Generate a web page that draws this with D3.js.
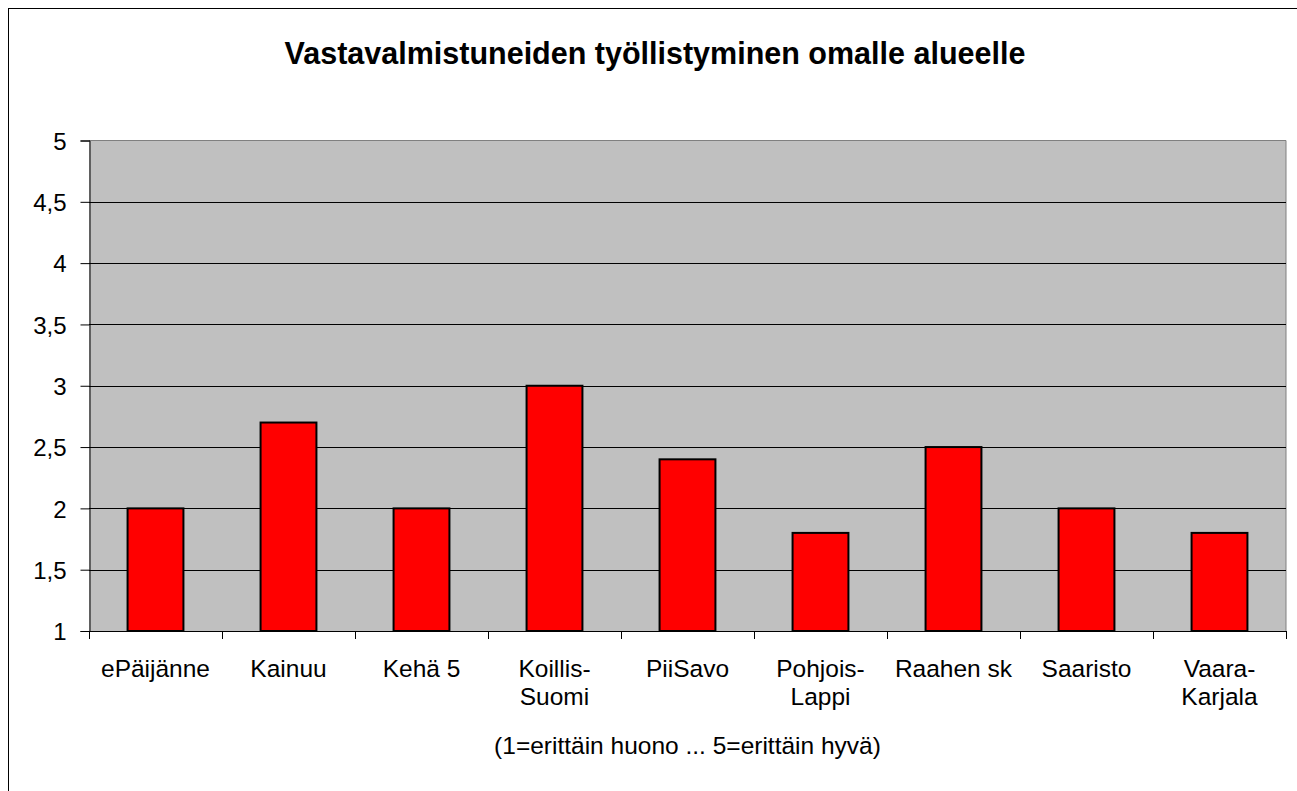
<!DOCTYPE html>
<html><head><meta charset="utf-8">
<script src="https://cdn.jsdelivr.net/npm/d3@7"></script>
<style>body{margin:0;background:#fff;} text{font-family:"Liberation Sans",Arial,sans-serif;}</style>
</head><body>
<svg id="c" width="1297" height="791"></svg>
<script>
const categories = [["ePäijänne"],["Kainuu"],["Kehä 5"],["Koillis-","Suomi"],["PiiSavo"],["Pohjois-","Lappi"],["Raahen sk"],["Saaristo"],["Vaara-","Karjala"]];
const values = [2, 2.7, 2, 3, 2.4, 1.8, 2.5, 2, 1.8];
const yTicks = [1, 1.5, 2, 2.5, 3, 3.5, 4, 4.5, 5];
const title = "Vastavalmistuneiden työllistyminen omalle alueelle";
const xTitle = "(1=erittäin huono ... 5=erittäin hyvä)";

const svg = d3.select("#c");
const L = 89, R = 1286, T = 140.5, B = 631;
svg.append("rect").attr("x",8.5).attr("y",8.5).attr("width",1300).attr("height",800).attr("fill","#fff").attr("stroke","#000").attr("stroke-width",1);

const x = d3.scaleBand().domain(categories.map((d,i)=>i)).range([L,R]).paddingInner(0.58).paddingOuter(0.29);
const xb = d3.scaleBand().domain(categories.map((d,i)=>i)).range([L,R]);
const y = d3.scaleLinear().domain([1,5]).range([B,T]);

svg.append("rect").attr("x",L).attr("y",T).attr("width",R-L).attr("height",B-T).attr("fill","#C0C0C0");
svg.append("path").attr("d",`M${L},${T}H${R}V${B}`).attr("fill","none").attr("stroke","#808080").attr("stroke-width",1);

svg.append("g").selectAll("line").data(yTicks.filter(t=>t>1&&t<5)).join("line")
  .attr("x1",L).attr("x2",R).attr("y1",d=>Math.round(y(d))+0.5).attr("y2",d=>Math.round(y(d))+0.5)
  .attr("stroke","#000").attr("stroke-width",1);

svg.append("g").selectAll("rect").data(values).join("rect")
  .attr("x",(d,i)=>x(i)).attr("width",x.bandwidth())
  .attr("y",d=>y(d)).attr("height",d=>B-y(d))
  .attr("fill","#FF0000").attr("stroke","#000").attr("stroke-width",2);

const ya = d3.axisLeft(y).tickValues(yTicks).tickSize(9).tickPadding(14).tickFormat(d=>String(d).replace(".",","));
const yg = svg.append("g").attr("transform",`translate(${L+0.5},0)`).call(ya);
yg.select(".domain").attr("stroke","#000");
yg.selectAll("text").attr("font-size",24).attr("fill","#000").attr("dy","0.36em").style("font-family","Liberation Sans, Arial, sans-serif");

svg.append("line").attr("x1",L).attr("x2",R).attr("y1",B+0.5).attr("y2",B+0.5).attr("stroke","#000");
const tickPos = d3.range(categories.length+1).map(i=> i<categories.length ? xb(i) : R);
svg.append("g").selectAll("line").data(tickPos).join("line")
  .attr("x1",d=>Math.round(d)+0.5).attr("x2",d=>Math.round(d)+0.5).attr("y1",B).attr("y2",B+8).attr("stroke","#000");

const lg = svg.append("g");
categories.forEach((lines,i)=>{
  const cx = xb(i)+xb.bandwidth()/2;
  const t = lg.append("text").attr("text-anchor","middle").attr("font-size",24.5).attr("fill","#000");
  lines.forEach((s,j)=>t.append("tspan").attr("x",cx).attr("y",677+j*28).text(s));
});

svg.append("text").attr("x",(L+R)/2).attr("y",754).attr("text-anchor","middle").attr("font-size",24.5).text(xTitle);
svg.append("text").attr("x",655).attr("y",64).attr("text-anchor","middle").attr("font-size",30.5).attr("font-weight","bold").text(title);
</script>
</body></html>
